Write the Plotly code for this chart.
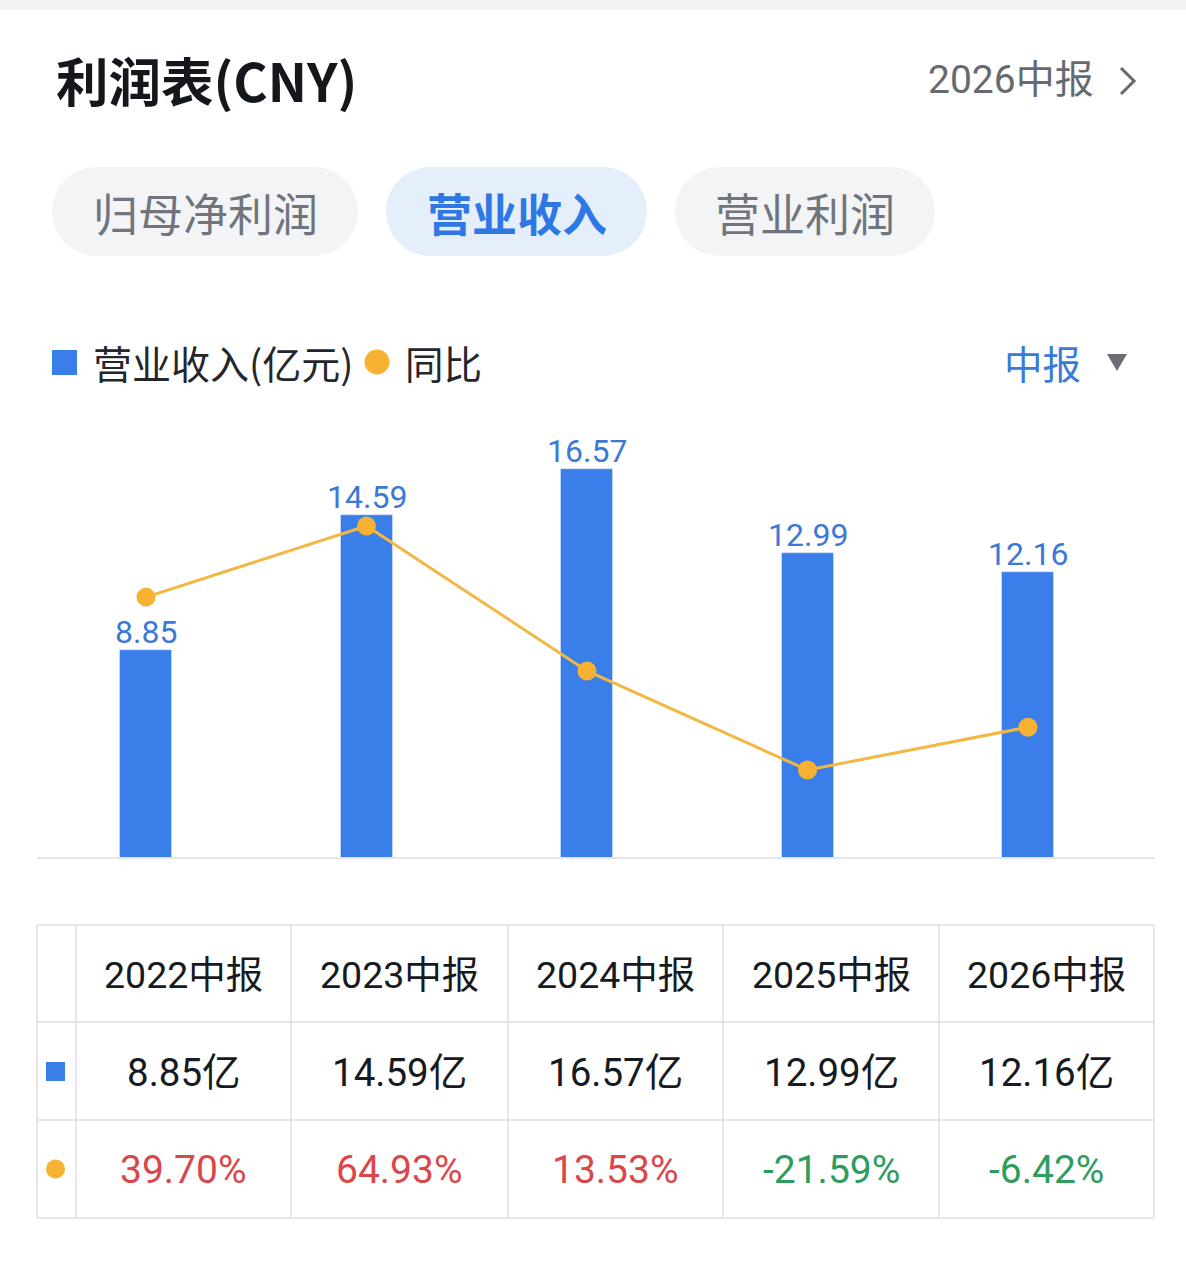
import plotly.graph_objects as go

# data
periods = ["2022中报", "2023中报", "2024中报", "2025中报", "2026中报"]
revenue = [8.85, 14.59, 16.57, 12.99, 12.16]  # 亿元
yoy = [39.70, 64.93, 13.53, -21.59, -6.42]  # %
tabs = ["归母净利润", "营业收入", "营业利润"]
active_tab = "营业收入"

W, H = 1186, 1269
CJK = "Noto Sans CJK SC"
NUM = "Roboto, Noto Sans CJK SC"
BLUE = "#3a7ee9"
ORANGE = "#f7b133"


def px(x):
    return x / W


def py(y):
    return 1 - y / H


def box(x0, y0, x1, y1, **kw):
    return dict(type="rect", xref="paper", yref="paper",
                x0=px(x0), x1=px(x1), y0=py(y1), y1=py(y0), **kw)


def text(x, y, s, size, color, family=CJK, xanchor="center", weight="normal"):
    return dict(xref="paper", yref="paper", x=px(x), y=py(y), text=s,
                showarrow=False, xanchor=xanchor, yanchor="middle",
                font=dict(family=family, size=size, color=color, weight=weight))


fig = go.Figure()
fig.add_trace(go.Bar(x=periods, y=revenue, marker_color=BLUE, width=0.236,
                     name="营业收入(亿元)", hoverinfo="skip"))
fig.add_trace(go.Scatter(x=periods, y=yoy, yaxis="y2", mode="lines+markers",
                         line=dict(color="#f3b744", width=3),
                         marker=dict(color=ORANGE, size=19), name="同比",
                         hoverinfo="skip"))

shapes = []
annos = []

# top band
shapes.append(box(0, 0, W, 10, fillcolor="#f2f3f5", line_width=0, layer="below"))

# title row
annos.append(text(54, 79, "利润表(CNY)", 52.5, "#14171c", xanchor="left", weight="bold"))
annos.append(text(1096, 80, "2026中报", 39, "#666a70", family=NUM, xanchor="right"))
shapes.append(dict(type="path", xref="paper", yref="paper",
                   path="M %f %f L %f %f L %f %f" % (px(1121), py(68), px(1134), py(81),
                                                     px(1121), py(94)),
                   line=dict(color="#666a70", width=3)))

# tab pills
pill_x = [(52, 358), (386, 647), (675, 935)]
for name, (x0, x1) in zip(tabs, pill_x):
    on = name == active_tab
    bg = "#e5eefb" if on else "#f3f4f6"
    y0, y1 = 167, 256
    r = (y1 - y0) / 2
    shapes.append(box(x0 + r, y0, x1 - r, y1, fillcolor=bg, line_width=0, layer="below"))
    for cx in (x0 + r, x1 - r):
        shapes.append(dict(type="circle", xref="paper", yref="paper",
                           x0=px(cx - r), x1=px(cx + r), y0=py(y1), y1=py(y0),
                           fillcolor=bg, line_width=0, layer="below"))
    annos.append(text((x0 + x1) / 2, 212, name, 45,
                      "#2f78e4" if on else "#70747c",
                      weight="bold" if on else "normal"))

# legend row
shapes.append(box(52, 350, 77, 375, fillcolor=BLUE, line_width=0))
annos.append(text(91, 362, "营业收入(亿元)", 39, "#23262b", xanchor="left"))
shapes.append(dict(type="circle", xref="paper", yref="paper",
                   x0=px(364.5), x1=px(389.5), y0=py(374.5), y1=py(349.5),
                   fillcolor=ORANGE, line_width=0))
annos.append(text(403, 362, "同比", 38.5, "#23262b", xanchor="left"))
annos.append(text(1083, 362, "中报", 38.5, "#3a7ad9", xanchor="right"))
shapes.append(dict(type="path", xref="paper", yref="paper",
                   path="M %f %f L %f %f L %f %f Z" % (px(1107), py(354), px(1127), py(354),
                                                       px(1117), py(371)),
                   fillcolor="#6b6e75", line_width=0))

# baseline
shapes.append(dict(type="line", xref="paper", yref="paper", x0=px(37), x1=px(1154),
                   y0=py(858), y1=py(858), line=dict(color="#e3e5e8", width=2)))

# bar value labels
for p, v in zip(periods, revenue):
    annos.append(dict(x=p, y=v, xref="x", yref="y", text="%.2f" % v, showarrow=False,
                      yanchor="bottom", yshift=-3,
                      font=dict(family=NUM, size=32, color="#3b78d8")))

# table
col_x = [37, 76, 291, 508, 723, 939, 1154]
row_y = [925, 1022, 1120, 1218]
grid = "#dedfe2"
for x in col_x:
    shapes.append(dict(type="line", xref="paper", yref="paper", x0=px(x), x1=px(x),
                       y0=py(row_y[0]), y1=py(row_y[-1]), line=dict(color=grid, width=1.5)))
for y in row_y:
    shapes.append(dict(type="line", xref="paper", yref="paper", x0=px(col_x[0]),
                       x1=px(col_x[-1]), y0=py(y), y1=py(y), line=dict(color=grid, width=1.5)))

rc = [(row_y[i] + row_y[i + 1]) / 2 for i in range(3)]
shapes.append(box(46, rc[1] - 9, 65, rc[1] + 10, fillcolor=BLUE, line_width=0))
shapes.append(dict(type="circle", xref="paper", yref="paper",
                   x0=px(46), x1=px(65), y0=py(rc[2] + 9.5), y1=py(rc[2] - 9.5),
                   fillcolor=ORANGE, line_width=0))
for i, (p, v, g) in enumerate(zip(periods, revenue, yoy)):
    cx = (col_x[i + 1] + col_x[i + 2]) / 2
    annos.append(text(cx, rc[0] + 1, p, 37.5, "#161a21", family=NUM))
    annos.append(text(cx, rc[1] + 1, "%.2f亿" % v, 38.5, "#161a21", family=NUM))
    annos.append(text(cx, rc[2] + 1, "%.2f%%" % g, 39,
                      "#d9474b" if g >= 0 else "#2d9c5d", family=NUM))

plot_top, plot_bot = 420, 858
fig.update_layout(
    width=W, height=H, margin=dict(l=0, r=0, t=0, b=0),
    paper_bgcolor="white", plot_bgcolor="white", showlegend=False,
    bargap=0,
    xaxis=dict(domain=[px(35.75), px(1138.25)], showgrid=False, showticklabels=False,
               zeroline=False, showline=False, fixedrange=True),
    yaxis=dict(domain=[py(plot_bot), py(plot_top)], range=[0, 18.65], visible=False,
               fixedrange=True),
    yaxis2=dict(overlaying="y", range=[-52.8, 102.5], visible=False, fixedrange=True),
    shapes=shapes, annotations=annos,
)

# the page's default body margin would push the figure 8px in
fig.write_html("out.html", config={"displayModeBar": False},
               post_script="document.body.style.margin='0';")
